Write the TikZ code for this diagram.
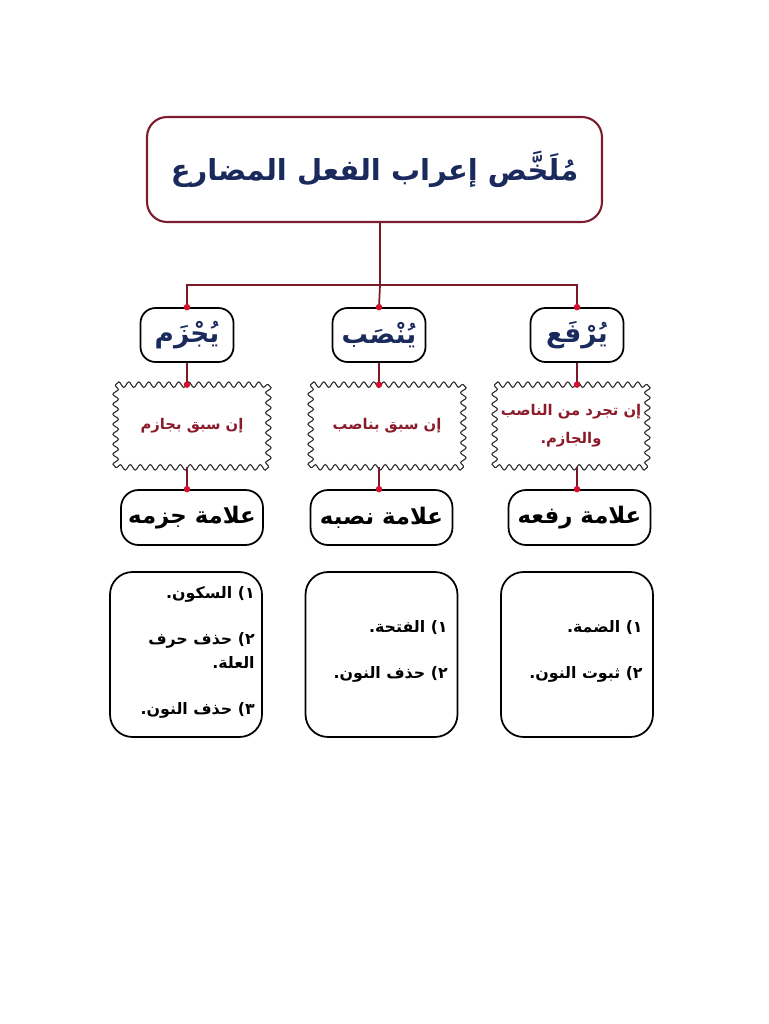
\documentclass[tikz,border=0pt]{standalone}
\usepackage{fontspec}
\usetikzlibrary{decorations.pathmorphing}
\TeXXeTstate=1
\newfontfamily\arabicfont[Script=Arabic]{DejaVu Sans}
\definecolor{framered}{HTML}{7B1D2E}
\definecolor{navy}{HTML}{1A2A5C}
\definecolor{textred}{HTML}{8B1A2A}
\definecolor{dotred}{HTML}{D41030}
\definecolor{linecol}{HTML}{7A1A28}
\begin{document}
\begin{tikzpicture}[x=0.02cm,y=-0.02cm,
  titlebox/.style={draw=framered,line width=1.2pt,rounded corners=0.4cm,minimum width=9.1cm,minimum height=2.1cm,inner sep=0pt,text=navy,font=\arabicfont\bfseries\fontsize{16.5}{20}\selectfont},
  verbbox/.style={draw=black,line width=1pt,rounded corners=0.3cm,minimum width=1.86cm,minimum height=1.08cm,inner sep=0pt,text=navy,font=\arabicfont\bfseries\fontsize{15}{18}\selectfont},
  wavybox/.style={minimum width=3.04cm,minimum height=1.64cm,inner sep=0pt,text=textred,align=center,font=\arabicfont\bfseries\fontsize{8.4}{16}\selectfont},
  wavyline/.style={draw=black!85,line width=0.6pt,line cap=round,decorate,decoration={snake,segment length=0.2cm,amplitude=0.055cm}},
  markbox/.style={draw=black,line width=1pt,rounded corners=0.35cm,minimum width=2.84cm,minimum height=1.1cm,inner sep=0pt,text=black,font=\arabicfont\bfseries\fontsize{13}{16}\selectfont},
  listbox/.style={draw=black,line width=1pt,rounded corners=0.45cm,minimum width=3.04cm,minimum height=3.3cm,inner sep=0pt},
  item/.style={anchor=east,inner sep=0pt,text=black,font=\arabicfont\bfseries\fontsize{9}{12}\selectfont},
  conn/.style={draw=linecol,line width=1pt},
  dot/.style={circle,fill=dotred,inner sep=0pt,minimum size=0.13cm}
]
\useasboundingbox (0,0) rectangle (768,1024);
\fill[white] (0,0) rectangle (768,1024);

\node[titlebox] (title) at (374.5,169.5) {\beginR مُلَخَّص إعراب الفعل المضارع\endR};

\node[verbbox] (v1) at (187,335) {\beginR يُجْزَم\endR};
\node[verbbox] (v2) at (379,335) {\beginR يُنْصَب\endR};
\node[verbbox] (v3) at (577,335) {\beginR يُرْفَع\endR};

\node[wavybox] (w1) at (192,426) {\beginR إن سبق بجازم\endR};
\node[wavybox] (w2) at (387,426) {\beginR إن سبق بناصب\endR};
\node[wavybox] (w3) at (571,426) {\beginR إن تجرد من الناصب\endR\\\beginR والجازم.\endR};
\foreach \w in {w1,w2,w3}{
  \draw[wavyline] (\w.north west) -- (\w.north east);
  \draw[wavyline] (\w.north east) -- (\w.south east);
  \draw[wavyline] (\w.south east) -- (\w.south west);
  \draw[wavyline] (\w.south west) -- (\w.north west);
}

\node[markbox] (m1) at (192,517.5) {\beginR علامة جزمه\endR};
\node[markbox] (m2) at (381.5,517.5) {\beginR علامة نصبه\endR};
\node[markbox] (m3) at (579.5,517.5) {\beginR علامة رفعه\endR};

\node[listbox] (l1) at (186,654.5) {};
\node[listbox] (l2) at (381.5,654.5) {};
\node[listbox] (l3) at (577,654.5) {};

\node[item] (l1a) at (255,594) {\beginR ١\kern0pt) السكون.\endR};
\node[item] (l1b) at (255,640) {\beginR ٢\kern0pt) حذف حرف\endR};
\node[item] (l1c) at (255,662) {\beginR العلة.\endR};
\node[item] (l1d) at (255,710) {\beginR ٣\kern0pt) حذف النون.\endR};

\node[item] (l2a) at (448,628) {\beginR ١\kern0pt) الفتحة.\endR};
\node[item] (l2b) at (448,674) {\beginR ٢\kern0pt) حذف النون.\endR};

\node[item] (l3a) at (643,628) {\beginR ١\kern0pt) الضمة.\endR};
\node[item] (l3b) at (643,674) {\beginR ٢\kern0pt) ثبوت النون.\endR};

% tree
\coordinate (hub) at (380,285);
\draw[conn] (title.south -| hub) -- (hub);
\draw[conn] (v1.north) |- (hub) -| (v3.north);
\draw[conn] (hub) -- (v2.north);
\foreach \v in {v1,v2,v3} \node[dot] at (\v.north) {};

\foreach \a/\b/\c in {v1/w1/m1,v2/w2/m2,v3/w3/m3}{
  \draw[conn] (\a.south) -- (\a.south |- \b.north);
  \node[dot] at (\a.south |- \b.north) {};
  \draw[conn] (\a.south |- \b.south) -- (\a.south |- \c.north);
  \node[dot] at (\a.south |- \c.north) {};
}
\end{tikzpicture}
\end{document}
